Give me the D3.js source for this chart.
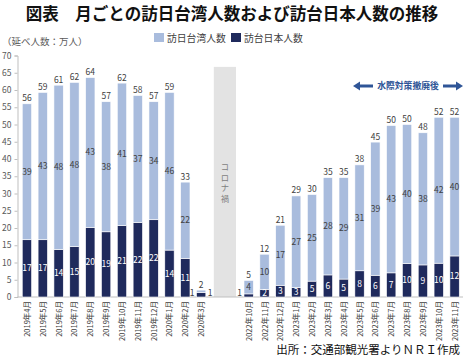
<!DOCTYPE html>
<meta charset="utf-8">
<body style="margin:0">
<script src="https://cdn.jsdelivr.net/npm/d3@7"></script>
<div id="chart"></div>
<script>
 // months shown on the axis, in order; the gap between the two groups is added below
 var monthsBefore = ["2019年4月", "2019年5月", "2019年6月", "2019年7月", "2019年8月", "2019年9月",
                     "2019年10月", "2019年11月", "2019年12月", "2020年1月", "2020年2月", "2020年3月"];
 var monthsAfter = ["2022年10月", "2022年11月", "2022年12月", "2023年1月", "2023年2月", "2023年3月",
                    "2023年4月", "2023年5月", "2023年6月", "2023年7月", "2023年8月", "2023年9月",
                    "2023年10月", "2023年11月"];
 // 万人
 var taiwanToJapan = [39.4, 42.7, 47.6, 47.6, 43.4, 37.7, 41.3, 36.8, 34.2, 45.7, 22.1, 0.7,
                      3.9, 10.2, 17.4, 26.6, 25.1, 28.2, 29.4, 30.7, 38.6, 42.7, 40.3, 38.3, 42.3, 40.2];
 var japanToTaiwan = [16.6, 16.6, 13.8, 14.6, 20.2, 18.9, 20.7, 21.6, 22.4, 13.6, 11.2, 1.3,
                      0.9, 2.2, 3.4, 2.7, 4.6, 6.4, 5.2, 7.6, 6.3, 7.0, 9.7, 9.3, 9.8, 11.9];
 var yTicks = [0, 5, 10, 15, 20, 25, 30, 35, 40, 45, 50, 55, 60, 65, 70];
 var gapSlots = ["gap1", "gap2"];
 var coronaTop = 66.7;

 var width = 465, height = 361;
 var lightC = "#a9bcdd", darkC = "#1f2a5c", textC = "#404040";
 var font = "'Noto Sans CJK JP', 'Noto Sans', sans-serif";

 var months = monthsBefore.concat(monthsAfter);
 var rows = months.map(function(m, i) {
     return {month: m, tw: taiwanToJapan[i], jp: japanToTaiwan[i]};
 });
 var domain = monthsBefore.concat(gapSlots, monthsAfter);

 var svg = d3.select("#chart").append("svg")
     .attr("width", width).attr("height", height)
     .attr("font-family", font);

 var x = d3.scaleBand().domain(domain).range([17.5, 464])
     .paddingInner(0.41).paddingOuter(0.3);
 var y = d3.scaleLinear().domain([0, 70]).range([297, 55.5]);

 // title
 svg.append("text").attr("x", 232).attr("y", 20)
    .attr("text-anchor", "middle").attr("font-size", 16.5).attr("font-weight", "bold")
    .attr("fill", "#111").text("図表　月ごとの訪日台湾人数および訪台日本人数の推移");

 svg.append("text").attr("x", 2).attr("y", 45)
    .attr("font-size", 9.5).attr("fill", "#595959").text("（延べ人数：万人）");

 // legend
 var legend = [["訪日台湾人数", lightC, 154], ["訪台日本人数", darkC, 231]];
 legend.forEach(function(l) {
     svg.append("rect").attr("x", l[2]).attr("y", 33).attr("width", 10).attr("height", 9).attr("fill", l[1]);
     svg.append("text").attr("x", l[2] + 13).attr("y", 42)
        .attr("font-size", 9.8).attr("fill", textC).text(l[0]);
 });

 // corona band
 var bx0 = x(gapSlots[0]) + 1.5, bx1 = x(gapSlots[1]) + x.bandwidth() - 1.5;
 svg.append("rect").attr("x", bx0).attr("y", y(coronaTop))
    .attr("width", bx1 - bx0).attr("height", y(0) - y(coronaTop)).attr("fill", "#e3e3e3");
 svg.append("g").selectAll("text").data("コロナ禍".split("")).join("text")
    .attr("x", (bx0 + bx1) / 2).attr("y", function(d, i) { return 170 + i * 10.5; })
    .attr("text-anchor", "middle").attr("font-size", 8.3).attr("fill", "#7f7f7f")
    .text(function(d) { return d; });

 // y axis
 var yAxis = svg.append("g").attr("transform", "translate(17.5,0)")
     .call(d3.axisLeft(y).tickValues(yTicks).tickSize(3).tickPadding(3));
 yAxis.selectAll("path, line").attr("stroke", "#bfbfbf");
 yAxis.selectAll("text").attr("font-family", font).attr("font-size", 8.5).attr("fill", "#595959");

 // x axis line
 svg.append("line").attr("x1", 17.5).attr("x2", 463).attr("y1", y(0)).attr("y2", y(0))
    .attr("stroke", "#bfbfbf");

 var bars = svg.append("g").selectAll("g").data(rows).join("g")
     .attr("transform", function(d) { return "translate(" + x(d.month) + ",0)"; });
 var bw = x.bandwidth();

 bars.append("rect").attr("x", 0).attr("width", bw)
     .attr("y", function(d) { return y(d.jp); })
     .attr("height", function(d) { return y(0) - y(d.jp); })
     .attr("fill", darkC).attr("stroke", "#fff").attr("stroke-width", 0.6);
 bars.append("rect").attr("x", 0).attr("width", bw)
     .attr("y", function(d) { return y(d.jp + d.tw); })
     .attr("height", function(d) { return y(d.jp) - y(d.jp + d.tw); })
     .attr("fill", lightC).attr("stroke", "#fff").attr("stroke-width", 0.6);

 // segment labels; tiny segments get labels beside the bar
 bars.append("text")
     .attr("x", function(d) { return y(0) - y(d.jp) < 6 ? -2 : bw / 2; })
     .attr("y", function(d) { return Math.min((y(0) + y(d.jp)) / 2 + 3, 296); })
     .attr("text-anchor", function(d) { return y(0) - y(d.jp) < 6 ? "end" : "middle"; })
     .attr("font-size", 8.5)
     .attr("fill", function(d) { return y(0) - y(d.jp) < 6 ? textC : "#fff"; })
     .text(function(d) { return Math.round(d.jp); });
 bars.append("text")
     .attr("x", function(d) { return y(d.jp) - y(d.jp + d.tw) < 6 ? bw + 2 : bw / 2; })
     .attr("y", function(d) {
         var m = (y(d.jp) + y(d.jp + d.tw)) / 2 + 3;
         return y(d.jp) - y(d.jp + d.tw) < 6 ? 296 : m;
     })
     .attr("text-anchor", function(d) { return y(d.jp) - y(d.jp + d.tw) < 6 ? "start" : "middle"; })
     .attr("font-size", 8.5).attr("fill", textC)
     .text(function(d) { return Math.round(d.tw); });
 bars.append("text")
     .attr("x", bw / 2).attr("y", function(d) { return y(d.jp + d.tw) - 2.5; })
     .attr("text-anchor", "middle").attr("font-size", 8.5).attr("fill", textC)
     .text(function(d) { return Math.round(d.jp + d.tw); });

 // rotated month labels
 svg.append("g").selectAll("text").data(months).join("text")
    .attr("transform", function(d) { return "translate(" + (x(d) + bw / 2 + 3) + ",301) rotate(-90)"; })
    .attr("text-anchor", "end").attr("font-size", 7.5).attr("fill", textC)
    .text(function(d) { return d; });

 // annotation
 var blue = "#2f5597";
 var ann = svg.append("g");
 ann.append("text").attr("x", 408).attr("y", 89).attr("text-anchor", "middle")
    .attr("font-size", 8.8).attr("font-weight", "bold").attr("fill", blue).text("水際対策撤廃後");
 function arrow(xTip, xTail) {
     var dir = xTip < xTail ? 1 : -1;
     ann.append("line").attr("x1", xTip + dir * 6).attr("x2", xTail)
        .attr("y1", 86).attr("y2", 86).attr("stroke", blue).attr("stroke-width", 3);
     ann.append("path").attr("fill", blue)
        .attr("d", "M" + xTip + ",86 L" + (xTip + dir * 7) + ",81.5 L" + (xTip + dir * 7) + ",90.5 Z");
 }
 arrow(353, 373);
 arrow(463, 443);

 svg.append("text").attr("x", 460).attr("y", 354).attr("text-anchor", "end")
    .attr("font-size", 11.5).attr("fill", "#111").text("出所：交通部観光署よりＮＲＩ作成");
</script>
</body>
